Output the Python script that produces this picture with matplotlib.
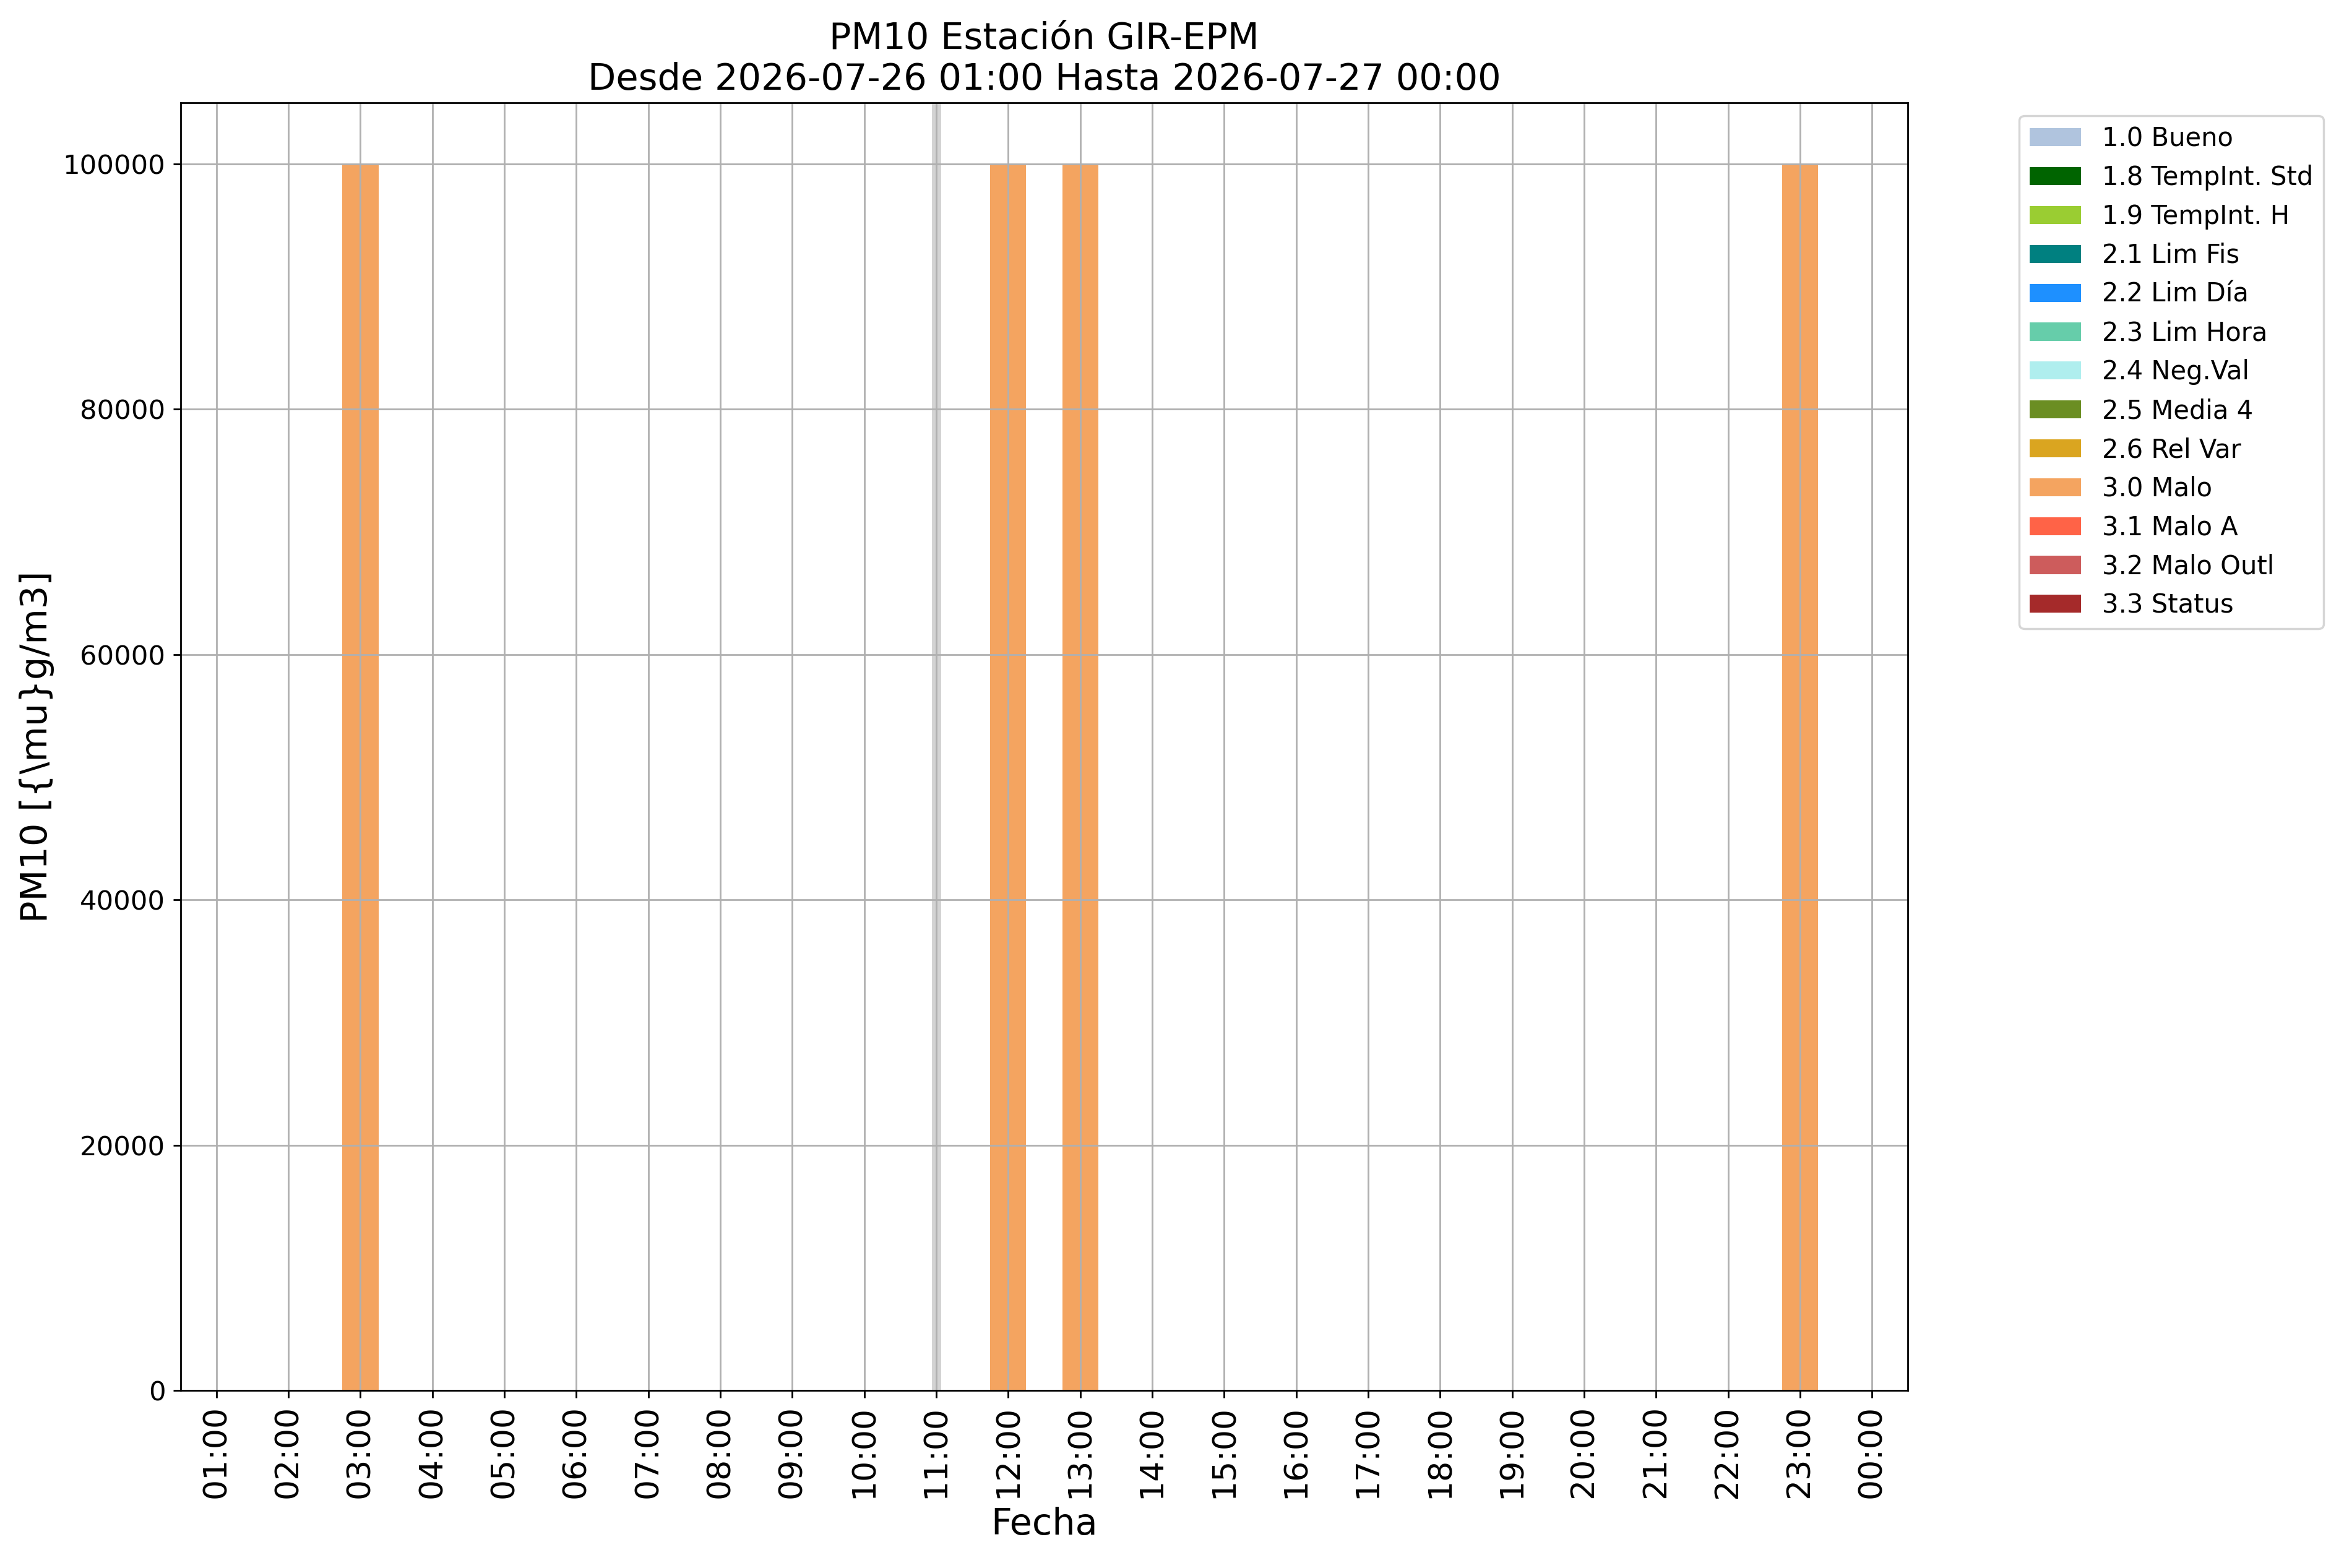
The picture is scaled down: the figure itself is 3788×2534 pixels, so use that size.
import numpy as np
from matplotlib import pyplot as plt

HOURS = ["01:00", "02:00", "03:00", "04:00", "05:00", "06:00", "07:00", "08:00",
         "09:00", "10:00", "11:00", "12:00", "13:00", "14:00", "15:00", "16:00",
         "17:00", "18:00", "19:00", "20:00", "21:00", "22:00", "23:00", "00:00"]

FLAGS = ["1.0 Bueno", "1.8 TempInt. Std", "1.9 TempInt. H", "2.1 Lim Fis", "2.2 Lim Día",
         "2.3 Lim Hora", "2.4 Neg.Val", "2.5 Media 4", "2.6 Rel Var", "3.0 Malo",
         "3.1 Malo A", "3.2 Malo Outl", "3.3 Status"]
FLAG_COLORS = ["lightsteelblue", "darkgreen", "yellowgreen", "teal", "dodgerblue",
               "mediumaquamarine", "paleturquoise", "olivedrab", "goldenrod", "sandybrown",
               "tomato", "indianred", "brown"]

# values per flag (only 3.0 Malo has data, the rest are empty)
malo = [0, 0, 100000, 0, 0, 0, 0, 0, 0, 0, 0, 100000, 100000, 0, 0, 0,
        0, 0, 0, 0, 0, 0, 100000, 0]
values = {f: [0] * len(HOURS) for f in FLAGS}
values["3.0 Malo"] = malo

MARK_HOUR = "11:00"  # grey marker line

fig = plt.figure(figsize=(15.152, 10.136), dpi=250)
ax = fig.add_axes([0.077, 0.1133, 0.737, 0.8212])

x = np.arange(len(HOURS))
bottom = np.zeros(len(HOURS))
for flag, color in zip(FLAGS, FLAG_COLORS):
    v = np.array(values[flag], dtype=float)
    ax.bar(x, v, width=0.5, bottom=bottom, color=color, label=flag)
    bottom += v

ax.axvline(HOURS.index(MARK_HOUR), color="lightgrey", lw=4.3, zorder=1)

ax.set_xticks(x)
ax.set_xticklabels(HOURS, rotation=90, fontsize=15)
ax.tick_params(axis="y", labelsize=12.5)
ax.set_xlim(-0.5, len(HOURS) - 0.5)
ax.set_ylim(0, max(malo) * 1.05)
ax.grid(True)

ax.set_title("PM10 Estación GIR-EPM\nDesde 2026-07-26 01:00 Hasta 2026-07-27 00:00", fontsize=17)
ax.set_xlabel("Fecha", fontsize=17)
ax.set_ylabel("PM10 [{\\mu}g/m3]", fontsize=17)

ax.legend(bbox_to_anchor=(1.057, 1), loc="upper left", fontsize=12)

fig.savefig("out.png", dpi=250)
